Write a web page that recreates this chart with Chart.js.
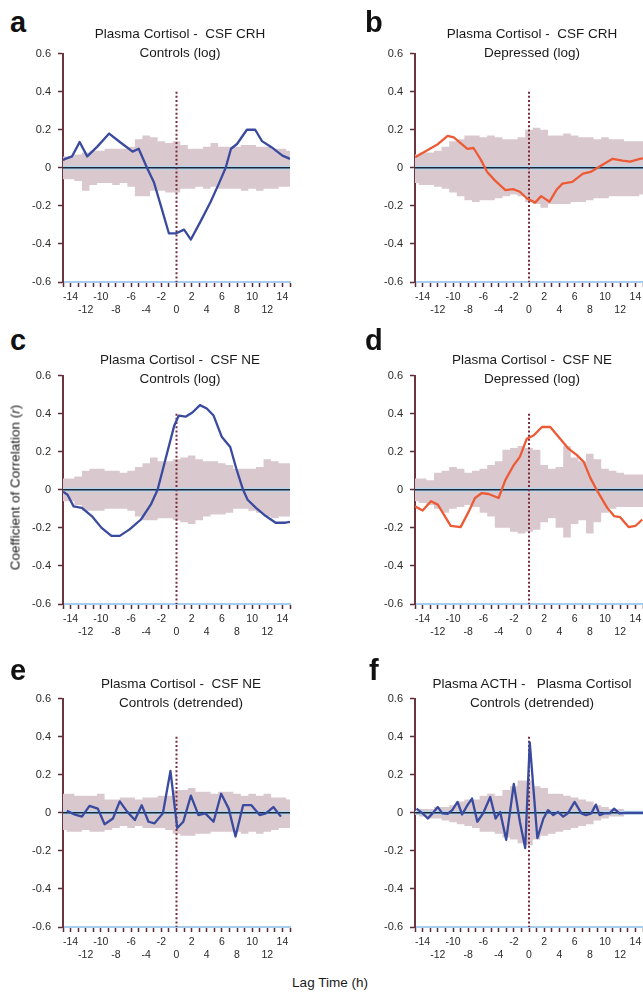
<!DOCTYPE html>
<html>
<head>
<meta charset="utf-8">
<script src="https://cdn.jsdelivr.net/npm/chart.js@4/dist/chart.umd.min.js"></script>
<style>
  html, body { margin:0; padding:0; background:#fff; }
  #wrap { position:relative; width:643px; height:994px; overflow:hidden; background:#fff;
          font-family:"Liberation Sans", Arial, Helvetica, sans-serif; color:#222; }
  canvas { position:absolute; }
  .lbl { position:absolute; font-weight:bold; font-size:29px; line-height:28px; color:#111; }
  .ttl { position:absolute; width:300px; text-align:center; font-size:13.5px; line-height:19px; color:#1a1a1a; white-space:pre; }
  .axt { position:absolute; width:300px; text-align:center; font-size:13.5px; line-height:19px; color:#1a1a1a; }
</style>
</head>
<body>
<div id="wrap">
  <canvas id="ca" width="320" height="282" style="left:0;top:40px"></canvas>
  <canvas id="cb" width="330" height="282" style="left:320px;top:40px"></canvas>
  <canvas id="cc" width="320" height="282" style="left:0;top:362px"></canvas>
  <canvas id="cd" width="330" height="282" style="left:320px;top:362px"></canvas>
  <canvas id="ce" width="320" height="282" style="left:0;top:685px"></canvas>
  <canvas id="cf" width="330" height="282" style="left:320px;top:685px"></canvas>
</div>
<script>
// ---------------- DATA ----------------
const panelLetters = ['a','b','c','d','e','f'];
const titleLine1 = ['Plasma Cortisol -  CSF CRH','Plasma Cortisol -  CSF CRH','Plasma Cortisol -  CSF NE','Plasma Cortisol -  CSF NE','Plasma Cortisol -  CSF NE','Plasma ACTH -   Plasma Cortisol'];
const titleLine2 = ['Controls (log)','Depressed (log)','Controls (log)','Depressed (log)','Controls (detrended)','Controls (detrended)'];
const yAxisTitle = 'Coefficient of Correlation (';
const xAxisTitle = 'Lag Time (h)';

const yTickValues = [0.6, 0.4, 0.2, 0, -0.2, -0.4, -0.6];
const yTickLabels = ['0.6','0.4','0.2','0','-0.2','-0.4','-0.6'];
const xTopValues = [-14, -10, -6, -2, 2, 6, 10, 14];
const xTopLabels = ['-14','-10','-6','-2','2','6','10','14'];
const xBottomValues = [-12, -8, -4, 0, 4, 8, 12];
const xBottomLabels = ['-12','-8','-4','0','4','8','12'];

// lag positions of the confidence-band steps (h)
const bandLags = [-15,-14,-13,-12,-11,-10,-9,-8,-7,-6,-5,-4,-3,-2,-1,0,1,2,3,4,5,6,7,8,9,10,11,12,13,14,15];

// panel a: Plasma Cortisol - CSF CRH, Controls (log)
const bandUpperA = [0.06,0.06,0.07,0.08,0.09,0.09,0.10,0.10,0.10,0.11,0.15,0.17,0.16,0.14,0.13,0.14,0.12,0.10,0.10,0.11,0.13,0.11,0.11,0.11,0.12,0.12,0.11,0.11,0.10,0.10,0.09];
const bandLowerA = [-0.06,-0.06,-0.07,-0.12,-0.09,-0.08,-0.08,-0.09,-0.08,-0.10,-0.15,-0.15,-0.12,-0.12,-0.13,-0.13,-0.11,-0.11,-0.10,-0.11,-0.10,-0.11,-0.11,-0.11,-0.12,-0.11,-0.12,-0.11,-0.11,-0.10,-0.10];
const lagA = [-15,-14.7,-13.8,-12.8,-11.8,-10.5,-8.9,-7.4,-5.8,-5.0,-3.9,-3.0,-2.1,-1.0,-0.1,1.0,1.9,3.2,4.5,5.6,6.5,7.2,8.0,9.3,10.4,11.3,12.6,14.0,15.0];
const rA = [0.04,0.047,0.06,0.136,0.06,0.11,0.18,0.133,0.085,0.10,0.0,-0.074,-0.195,-0.345,-0.345,-0.325,-0.377,-0.28,-0.18,-0.083,0.0,0.10,0.125,0.20,0.20,0.14,0.107,0.064,0.047];

// panel b: Plasma Cortisol - CSF CRH, Depressed (log)
const bandUpperB = [0.07,0.08,0.08,0.09,0.11,0.14,0.15,0.17,0.17,0.16,0.17,0.16,0.15,0.15,0.16,0.20,0.21,0.20,0.17,0.17,0.18,0.17,0.16,0.16,0.15,0.16,0.15,0.15,0.14,0.14,0.14];
const bandLowerB = [-0.08,-0.09,-0.09,-0.10,-0.11,-0.13,-0.15,-0.17,-0.18,-0.17,-0.17,-0.16,-0.15,-0.14,-0.15,-0.18,-0.19,-0.21,-0.19,-0.19,-0.19,-0.18,-0.18,-0.17,-0.16,-0.16,-0.15,-0.15,-0.15,-0.15,-0.14];
const lagB = [-15,-12,-10.7,-9.9,-8.1,-7.3,-6.4,-5.5,-4.5,-3.1,-2.1,-1.2,-0.3,0.8,1.6,2.7,3.6,4.4,5.7,7.1,8.1,9.4,11,12.3,13.3,14.6,15];
const rB = [0.055,0.124,0.168,0.16,0.10,0.104,0.047,-0.022,-0.066,-0.117,-0.112,-0.126,-0.16,-0.183,-0.149,-0.178,-0.117,-0.083,-0.074,-0.031,-0.022,0.009,0.047,0.038,0.033,0.047,0.05];

// panel c: Plasma Cortisol - CSF NE, Controls (log)
const bandUpperC = [0.06,0.06,0.07,0.10,0.11,0.11,0.10,0.10,0.09,0.10,0.12,0.14,0.17,0.15,0.15,0.16,0.17,0.18,0.16,0.15,0.15,0.14,0.13,0.11,0.11,0.11,0.12,0.16,0.15,0.14,0.14];
const bandLowerC = [-0.06,-0.06,-0.08,-0.11,-0.11,-0.11,-0.10,-0.10,-0.10,-0.11,-0.14,-0.16,-0.16,-0.15,-0.15,-0.16,-0.17,-0.18,-0.16,-0.14,-0.13,-0.13,-0.12,-0.10,-0.10,-0.11,-0.12,-0.14,-0.15,-0.14,-0.14];
const lagC = [-15,-14.4,-13.6,-12.5,-11.2,-9.9,-8.6,-7.5,-6.2,-4.7,-3.4,-2.5,-1.2,-0.3,0.3,1.2,2.1,3.1,4.0,4.9,6.0,7.1,7.9,8.8,9.4,10.5,11.8,13.1,14.4,15];
const rC = [-0.01,-0.026,-0.087,-0.095,-0.138,-0.20,-0.242,-0.242,-0.208,-0.156,-0.078,0.0,0.20,0.337,0.39,0.384,0.406,0.445,0.427,0.39,0.277,0.225,0.112,0.0,-0.052,-0.095,-0.138,-0.173,-0.173,-0.168];

// panel d: Plasma Cortisol - CSF NE, Depressed (log)
const bandUpperD = [0.06,0.06,0.05,0.09,0.10,0.12,0.11,0.09,0.10,0.11,0.13,0.15,0.21,0.22,0.23,0.22,0.21,0.13,0.11,0.12,0.23,0.17,0.15,0.19,0.16,0.11,0.10,0.09,0.08,0.08,0.08];
const bandLowerD = [-0.06,-0.07,-0.08,-0.10,-0.12,-0.10,-0.09,-0.08,-0.09,-0.12,-0.14,-0.20,-0.20,-0.22,-0.23,-0.22,-0.21,-0.17,-0.15,-0.20,-0.25,-0.18,-0.16,-0.23,-0.17,-0.12,-0.10,-0.09,-0.09,-0.09,-0.09];
const lagD = [-15,-14,-12.9,-12,-10.3,-9,-7.9,-7.1,-6.2,-5.3,-4,-3.1,-2,-1.2,-0.3,0.6,1.7,2.8,4.1,5.2,6.3,7.2,8.1,8.9,10.3,11.2,12,13.1,14,14.9];
const rD = [-0.087,-0.109,-0.06,-0.078,-0.19,-0.196,-0.112,-0.043,-0.017,-0.022,-0.043,0.052,0.13,0.173,0.268,0.285,0.33,0.33,0.268,0.216,0.182,0.147,0.06,0.0,-0.095,-0.138,-0.144,-0.196,-0.19,-0.156];

// panel e: Plasma Cortisol - CSF NE, Controls (detrended)
const bandUpperE = [0.10,0.10,0.09,0.09,0.09,0.10,0.07,0.07,0.08,0.08,0.07,0.08,0.08,0.09,0.09,0.12,0.12,0.13,0.11,0.11,0.10,0.11,0.11,0.10,0.09,0.10,0.09,0.10,0.08,0.08,0.07];
const bandLowerE = [-0.09,-0.10,-0.10,-0.09,-0.10,-0.10,-0.09,-0.08,-0.07,-0.08,-0.07,-0.08,-0.08,-0.08,-0.09,-0.11,-0.12,-0.12,-0.11,-0.11,-0.10,-0.10,-0.10,-0.10,-0.11,-0.10,-0.11,-0.10,-0.09,-0.08,-0.08];
const lagE = [-14.5,-14.2,-13.4,-12.5,-11.5,-10.4,-9.5,-8.4,-7.5,-6.5,-5.5,-4.6,-3.7,-2.9,-1.8,-0.8,0.1,0.9,1.9,2.9,3.8,4.9,5.9,6.9,7.8,8.8,9.9,11.0,11.8,12.8,13.8];
const rE = [0.01,0.005,-0.01,-0.02,0.036,0.022,-0.06,-0.03,0.06,0.005,-0.038,0.04,-0.047,-0.055,-0.003,0.22,-0.08,-0.047,0.09,-0.012,-0.003,-0.047,0.10,0.022,-0.125,0.04,0.04,-0.012,-0.003,0.03,-0.02];

// panel f: Plasma ACTH - Plasma Cortisol, Controls (detrended)
const bandUpperF = [0.01,0.02,0.02,0.03,0.03,0.04,0.06,0.07,0.07,0.09,0.10,0.09,0.12,0.14,0.17,0.17,0.14,0.13,0.10,0.10,0.09,0.08,0.07,0.06,0.04,0.03,0.02,0.02,0.01,0.01,0.01];
const bandLowerF = [-0.01,-0.02,-0.03,-0.03,-0.04,-0.05,-0.06,-0.07,-0.08,-0.10,-0.10,-0.11,-0.13,-0.14,-0.16,-0.17,-0.14,-0.12,-0.11,-0.10,-0.09,-0.08,-0.07,-0.06,-0.04,-0.03,-0.02,-0.02,-0.01,-0.01,-0.01];
const lagF = [-14.8,-14,-13.3,-12.7,-12,-11.4,-10.7,-10.1,-9.4,-8.8,-8.1,-7.5,-6.8,-6,-5.1,-4.4,-3.8,-3,-2,-1.2,-0.5,0.1,1.1,1.9,2.5,3.2,3.8,4.5,5.1,6,6.9,7.5,8.2,8.8,9.3,9.9,10.6,11.2,11.9,12.7,15];
const rF = [0.022,-0.003,-0.03,-0.003,0.03,-0.003,-0.005,0.014,0.057,-0.009,0.04,0.075,-0.047,0.0,0.083,-0.03,0.005,-0.142,0.152,-0.047,-0.185,0.37,-0.133,-0.03,0.014,-0.012,0.005,-0.02,-0.003,0.057,-0.003,-0.012,-0.003,0.043,-0.012,-0.003,-0.003,0.022,-0.003,0.0,0.0];

// ---------------- RENDER ----------------
const FONT = '"Liberation Sans", Arial, Helvetica, sans-serif';
const BLUE = '#3a4a9e', ORANGE = '#ec5b36';
const BAND = '#d9c9ce';

function pts(xs, ys) { return xs.map((x, i) => ({x: x, y: ys[i]})); }

const panels = [
  {id:'ca', up:bandUpperA, lo:bandLowerA, lag:lagA, r:rA, color:BLUE, right:false},
  {id:'cb', up:bandUpperB, lo:bandLowerB, lag:lagB, r:rB, color:ORANGE, right:true},
  {id:'cc', up:bandUpperC, lo:bandLowerC, lag:lagC, r:rC, color:BLUE, right:false},
  {id:'cd', up:bandUpperD, lo:bandLowerD, lag:lagD, r:rD, color:ORANGE, right:true},
  {id:'ce', up:bandUpperE, lo:bandLowerE, lag:lagE, r:rE, color:BLUE, right:false},
  {id:'cf', up:bandUpperF, lo:bandLowerF, lag:lagF, r:rF, color:BLUE, right:true}
];

panels.forEach(p => {
  new Chart(document.getElementById(p.id), {
    type: 'line',
    data: {
      datasets: [
        {data: pts(p.lag, p.r), borderColor: p.color, borderWidth: 2.3, fill: false, order: 0, borderJoinStyle:'round'},
        {data: [{x:0,y:0.4},{x:0,y:-0.6}], borderColor:'#7a2a3c', borderWidth:2, borderDash:[2,2.2], fill:false, order:1},
        {data: [{x:-15,y:0},{x:15,y:0}], borderColor:'#1c2838', borderWidth:1.5, fill:false, order:2},
        {data: [{x:-15,y:0},{x:15,y:0}], borderColor:'#b4d4ee', borderWidth:4, fill:false, order:3},
        {data: pts(bandLags, p.up), stepped:'middle', borderColor:'transparent', borderWidth:0, backgroundColor: BAND, fill:'+1', order:4},
        {data: pts(bandLags, p.lo), stepped:'middle', borderColor:'transparent', borderWidth:0, fill:false, order:5}
      ]
    },
    options: {
      responsive: false, animation: false, devicePixelRatio: 1,
      layout: {padding: {top: 10, right: p.right ? 7 : 30, left: 0, bottom: 0}},
      plugins: {legend: {display:false}, tooltip: {enabled:false}, title: {display:false}},
      elements: {point: {radius: 0}, line: {tension: 0}},
      scales: {
        x: {
          type: 'linear', min: -15, max: 15,
          afterFit: s => { s.height = 40; },
          ticks: {
            stepSize: 1, autoSkip: false, maxRotation: 0, padding: 4,
            color: '#2a2a2a', font: {size: 10.5, family: FONT}, lineHeight: 1.2,
            callback: v => {
              const k = Math.round(v);
              const t = xTopValues.indexOf(k);
              if (t >= 0) return [xTopLabels[t], ''];
              const b = xBottomValues.indexOf(k);
              if (b >= 0) return ['', xBottomLabels[b]];
              return '';
            }
          },
          grid: {drawOnChartArea: false, drawTicks: true, tickLength: 5, tickColor: '#5a2a35', tickWidth: 1.5},
          border: {color: '#a6cdee', width: 2}
        },
        y: {
          min: -0.6, max: 0.6,
          afterFit: s => { s.width = p.right ? 95 : 63; },
          ticks: {
            stepSize: 0.2, padding: 7, color: '#2a2a2a', font: {size: 11, family: FONT},
            callback: v => {
              const k = Math.round(v * 10) / 10;
              const i = yTickValues.indexOf(k === 0 ? 0 : k);
              return i >= 0 ? yTickLabels[i] : '';
            }
          },
          grid: {drawOnChartArea: false, drawTicks: true, tickLength: 5, tickColor: '#5a2a35', tickWidth: 1.5},
          border: {color: '#6b3540', width: 2}
        }
      }
    }
  });
});

// ---------------- TEXT ----------------
const wrap = document.getElementById('wrap');
function addDiv(cls, html, left, top, extra) {
  const d = document.createElement('div');
  d.className = cls; d.innerHTML = html;
  d.style.left = left + 'px'; d.style.top = top + 'px';
  if (extra) Object.assign(d.style, extra);
  wrap.appendChild(d);
  return d;
}
const letterPos = [[10,8],[365,8],[10,326],[365,326],[10,656],[369,656]];
const titlePos = [[180,24],[532,24],[180,350],[532,350],[181,674],[532,674]];
panelLetters.forEach((L, i) => {
  addDiv('lbl', L, letterPos[i][0], letterPos[i][1]);
  addDiv('ttl', titleLine1[i] + '\n' + titleLine2[i], titlePos[i][0] - 150, titlePos[i][1]);
});
addDiv('axt', yAxisTitle + '<i>r</i>)', 15 - 150, 487 - 9.5, {transform: 'rotate(-90deg)'});
addDiv('axt', xAxisTitle, 330 - 150, 973);
</script>
</body>
</html>
